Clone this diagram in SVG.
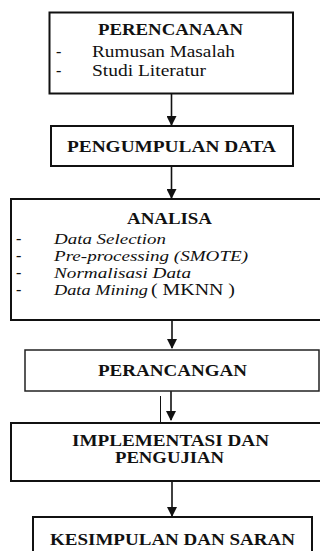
<svg xmlns="http://www.w3.org/2000/svg" width="320" height="551" viewBox="0 0 320 551">
<style>
.box{fill:#fff;stroke:#111;stroke-width:2}
.thin{fill:#fff;stroke:#222;stroke-width:1.5}
.t{font-family:"Liberation Serif","Times New Roman",serif;font-weight:bold;font-size:16px;fill:#111}
.r{font-family:"Liberation Serif","Times New Roman",serif;font-size:16px;fill:#111}
.i{font-family:"Liberation Serif","Times New Roman",serif;font-style:italic;font-size:15px;fill:#111}
.c{stroke:#111;stroke-width:1.6;fill:none}
</style>
<defs>
<marker id="ah" viewBox="0 0 10 10" refX="9" refY="5" markerWidth="10" markerHeight="10" markerUnits="userSpaceOnUse" orient="auto">
<path d="M0,0 L10,5 L0,10 Z" fill="#111"/>
</marker>
</defs>
<rect width="320" height="551" fill="#fff"/>
<g id="connectors">
<line class="c" x1="171.5" y1="94" x2="171.5" y2="125" marker-end="url(#ah)"/>
<line class="c" x1="171.5" y1="166" x2="171.5" y2="198" marker-end="url(#ah)"/>
<line class="c" x1="172" y1="320" x2="172" y2="348" marker-end="url(#ah)"/>
<line class="c" x1="171" y1="391" x2="171" y2="420" marker-end="url(#ah)"/>
<line x1="160.5" y1="396" x2="160.5" y2="423" stroke="#111" stroke-width="1"/>
<line class="c" x1="172" y1="481" x2="172" y2="516" marker-end="url(#ah)"/>
</g>
<g id="perencanaan">
<rect class="box" x="49.5" y="12.5" width="243.5" height="81"/>
<text class="t" x="98" y="35" textLength="145" lengthAdjust="spacingAndGlyphs">PERENCANAAN</text>
<text class="r" x="56" y="57">-</text>
<text class="r" x="92" y="57" textLength="143" lengthAdjust="spacingAndGlyphs">Rumusan Masalah</text>
<text class="r" x="56" y="76">-</text>
<text class="r" x="92" y="76" textLength="114" lengthAdjust="spacingAndGlyphs">Studi Literatur</text>
</g>
<g id="pengumpulan">
<rect class="box" x="51" y="126" width="242" height="40"/>
<text class="t" x="67" y="152" textLength="209" lengthAdjust="spacingAndGlyphs">PENGUMPULAN DATA</text>
</g>
<g id="analisa">
<rect class="box" x="11" y="199" width="320" height="121"/>
<text class="t" x="127" y="224" font-size="17" textLength="85" lengthAdjust="spacingAndGlyphs">ANALISA</text>
<text class="r" x="16" y="244">-</text>
<text class="i" x="54" y="244" textLength="112" lengthAdjust="spacingAndGlyphs">Data Selection</text>
<text class="r" x="16" y="261">-</text>
<text class="i" x="54" y="261" textLength="194" lengthAdjust="spacingAndGlyphs">Pre-processing (SMOTE)</text>
<text class="r" x="16" y="278">-</text>
<text class="i" x="54" y="278" textLength="137" lengthAdjust="spacingAndGlyphs">Normalisasi Data</text>
<text class="r" x="16" y="295">-</text>
<text class="i" x="54" y="295" textLength="94" lengthAdjust="spacingAndGlyphs">Data Mining</text>
<text class="r" x="151" y="295" textLength="84" lengthAdjust="spacingAndGlyphs">( MKNN )</text>
</g>
<g id="perancangan">
<rect class="thin" x="25" y="350" width="294" height="41"/>
<text class="t" x="98" y="376" textLength="149" lengthAdjust="spacingAndGlyphs">PERANCANGAN</text>
</g>
<g id="implementasi">
<rect class="box" x="11" y="423" width="320" height="58"/>
<text class="t" x="72" y="446" textLength="197" lengthAdjust="spacingAndGlyphs">IMPLEMENTASI DAN</text>
<text class="t" x="115" y="463" textLength="109" lengthAdjust="spacingAndGlyphs">PENGUJIAN</text>
</g>
<g id="kesimpulan">
<rect class="box" x="33" y="517" width="279" height="50"/>
<text class="t" x="50" y="545" textLength="245" lengthAdjust="spacingAndGlyphs">KESIMPULAN DAN SARAN</text>
</g>
</svg>
